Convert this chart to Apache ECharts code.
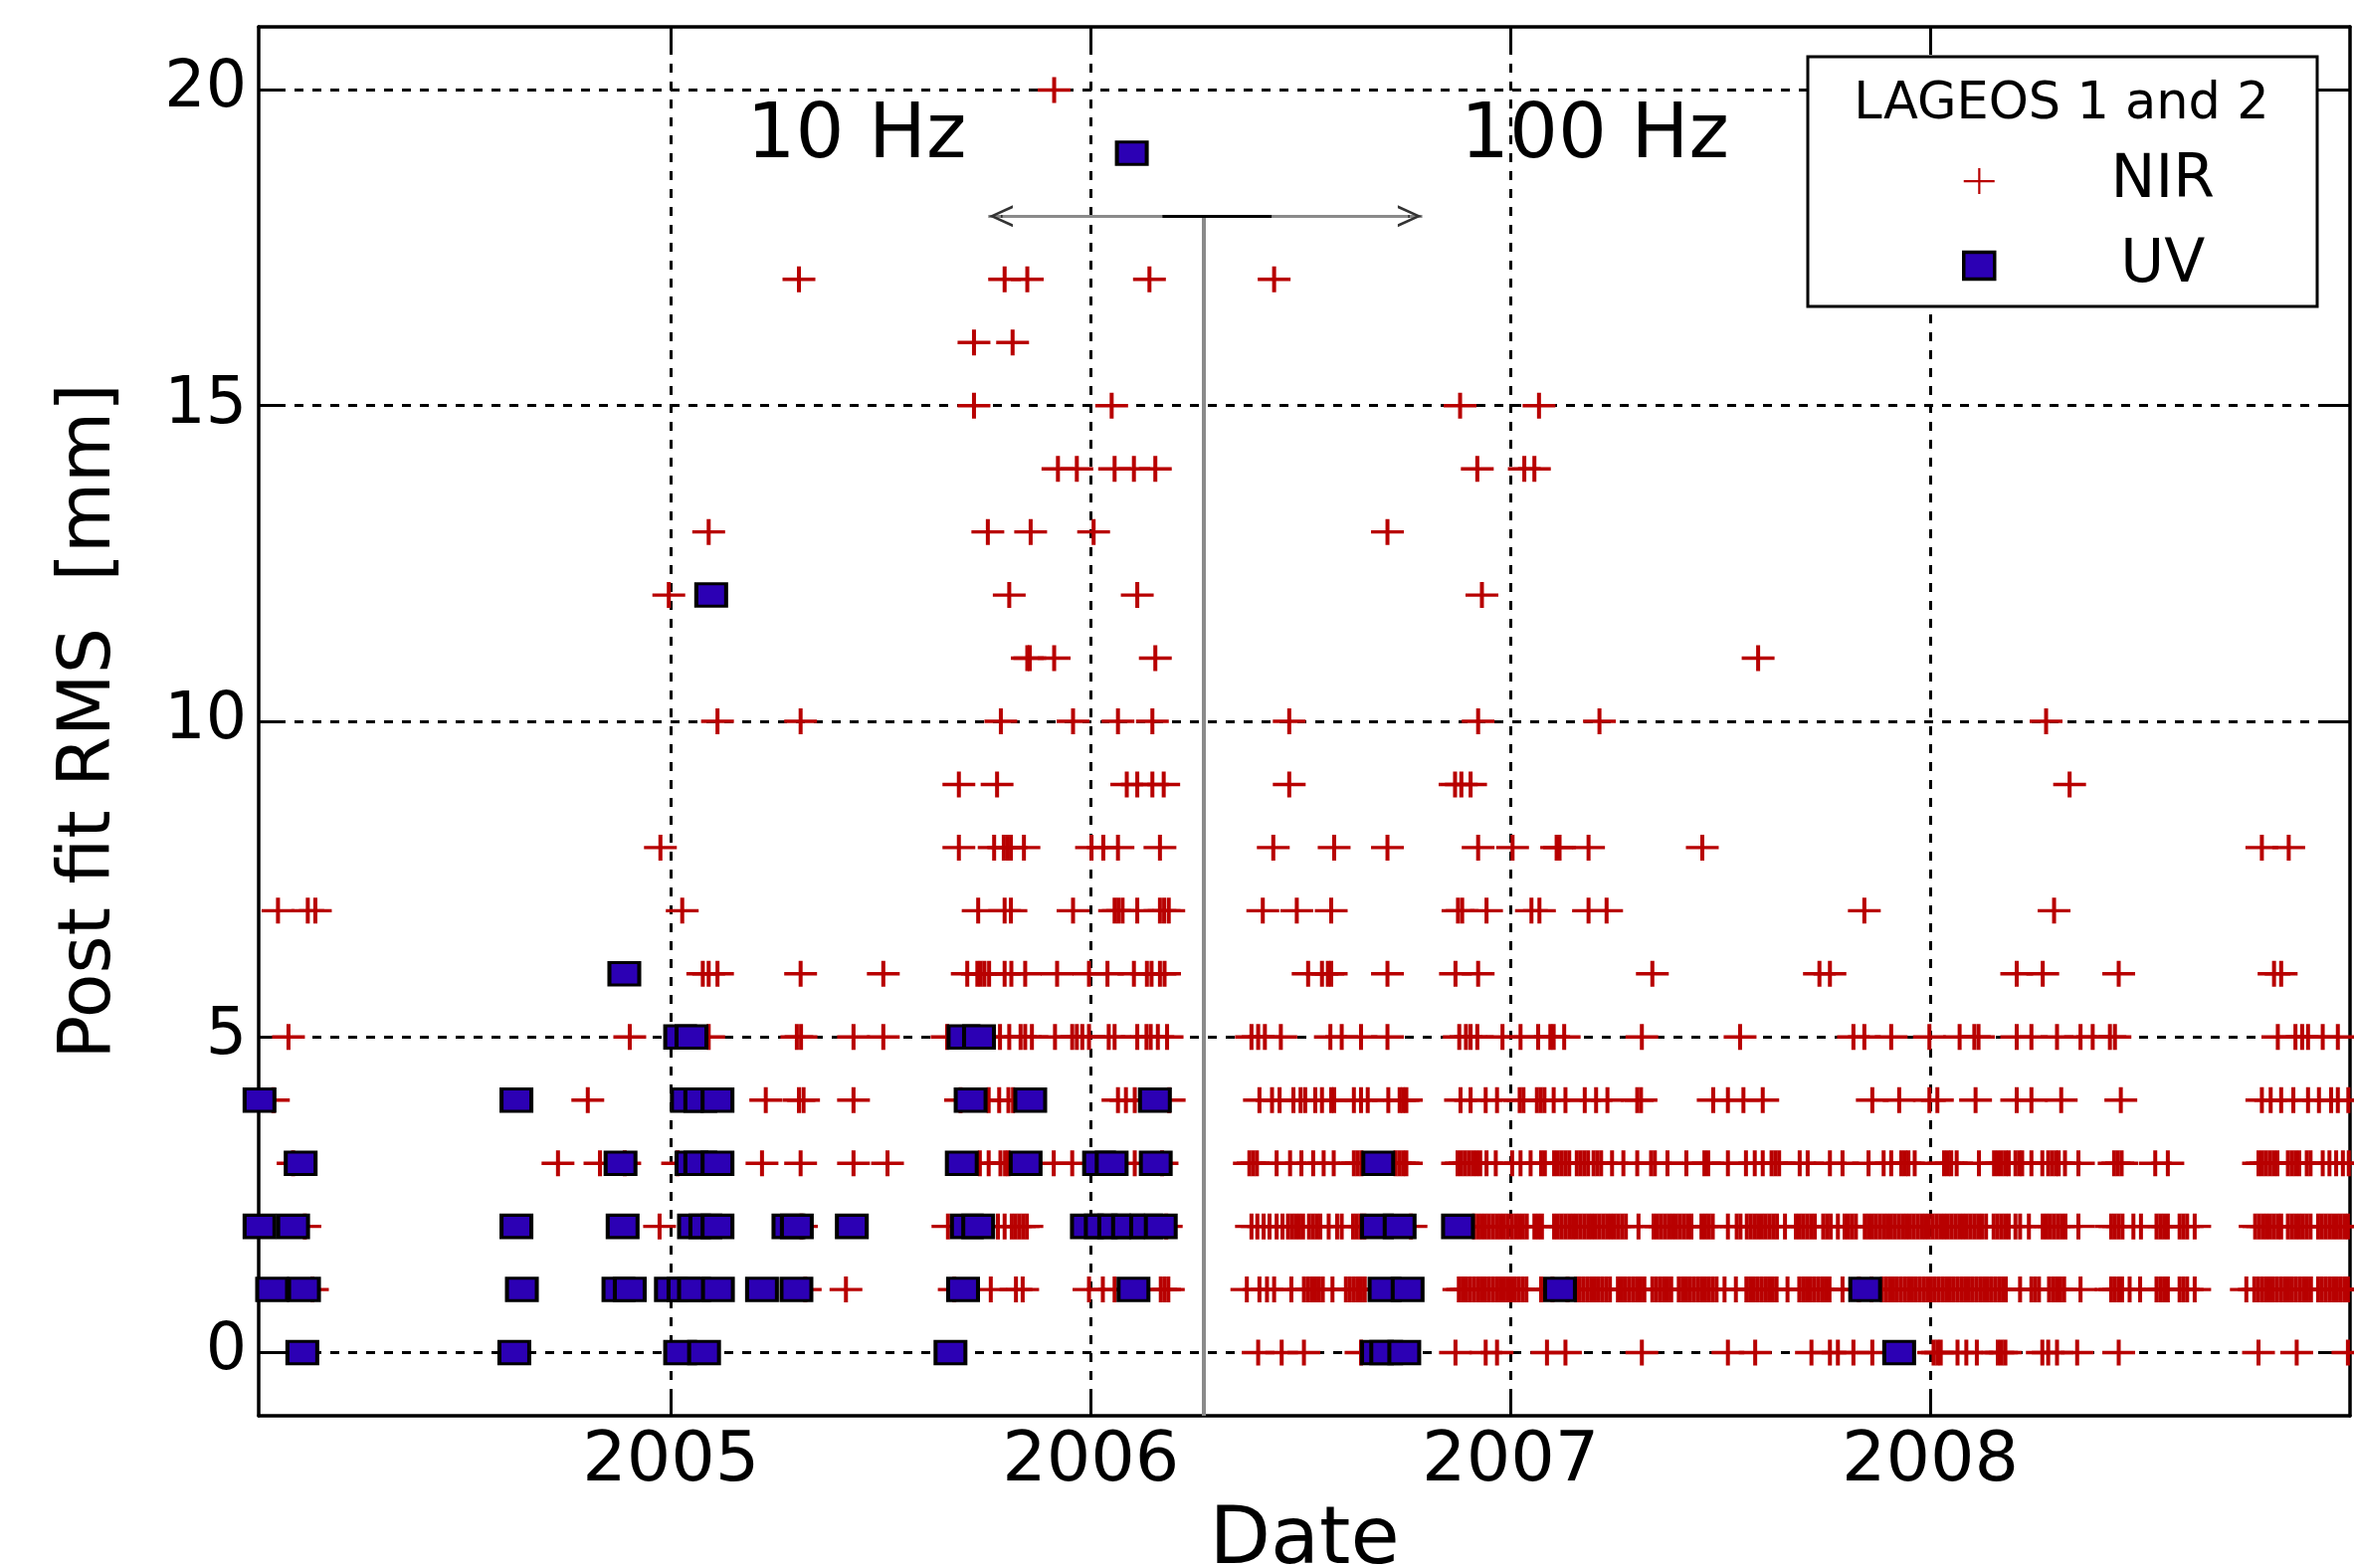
<!DOCTYPE html>
<html><head><meta charset="utf-8">
<script src="https://cdn.jsdelivr.net/npm/echarts@6/dist/echarts.min.js"></script>
<style>html,body{margin:0;padding:0;background:#fff}#c{width:2366px;height:1576px}</style>
</head><body><div id="c"></div>
<script>
// ---- tick labels ----
const xTicks = [2005, 2006, 2007, 2008];
const yTicks = [0, 5, 10, 15, 20];
const xMin = 2004.018, xMax = 2009.0;

// ---- NIR (red +) : decimal year per integer RMS level ----
const nir0 = [2006.399,2006.455,2006.508,2006.644,2006.869,2006.941,2006.968,2007.087,2007.131,2007.313,2007.518,2007.583,2007.717,2007.761,2007.780,2007.817,2007.862,2008.008,2008.017,2008.025,2008.065,2008.086,2008.111,2008.161,2008.170,2008.179,2008.267,2008.281,2008.302,2008.350,2008.449,2008.782,2008.873,2008.995];
const nir1 = [2004.146,2005.320,2005.417,2005.675,2005.762,2005.822,2005.838,2005.996,2006.029,2006.057,2006.167,2006.176,2006.185,
 2006.372,2006.402,2006.420,2006.437,2006.478,2006.508,2006.517,2006.526,2006.535,2006.544,2006.553,2006.576,
 2006.608,2006.617,2006.626,2006.635,2006.644,2006.653,
 2006.877,2006.886,2006.895,2006.904,2006.913,2006.922,2006.931,2006.940,2006.949,2006.958,2006.967,2006.976,2006.985,2006.993,
 2007.002,2007.011,2007.020,2007.029,2007.038,2007.073,2007.100,2007.136,
 2007.156,2007.165,2007.174,2007.183,2007.192,2007.201,2007.210,2007.219,2007.228,2007.237,
 2007.256,2007.265,2007.274,2007.283,2007.292,2007.301,2007.310,2007.319,
 2007.338,2007.347,2007.356,2007.365,2007.374,2007.383,
 2007.401,2007.410,2007.419,2007.428,2007.437,2007.446,2007.455,2007.464,2007.473,2007.482,2007.491,
 2007.510,2007.537,2007.562,2007.571,2007.580,2007.589,2007.598,2007.607,2007.616,2007.625,2007.634,2007.660,
 2007.688,2007.697,2007.706,2007.715,2007.724,2007.733,2007.742,2007.751,2007.760,2007.791,2007.830,2007.860,
 2007.885,2007.894,2007.903,2007.912,2007.921,2007.930,2007.939,2007.948,2007.957,2007.966,2007.975,2007.984,2007.993,
 2008.002,2008.011,2008.020,2008.029,2008.038,2008.047,2008.056,2008.065,2008.074,2008.083,2008.092,2008.101,2008.110,
 2008.119,2008.128,2008.137,2008.146,2008.155,2008.164,2008.173,2008.180,
 2008.214,2008.241,2008.250,2008.259,2008.283,2008.292,2008.301,2008.310,2008.319,2008.358,
 2008.431,2008.440,2008.449,2008.457,2008.475,2008.500,2008.539,2008.548,2008.557,2008.566,2008.594,2008.603,2008.612,2008.630,
 2008.753,2008.772,2008.781,2008.790,2008.799,2008.808,2008.817,2008.826,2008.835,2008.844,2008.853,2008.862,2008.871,2008.880,2008.889,2008.898,2008.907,
 2008.924,2008.933,2008.942,2008.951,2008.960,2008.969,2008.978,2008.987,2008.995];
const nir2 = [2004.128,2004.973,2005.311,2005.660,2005.779,2005.795,2005.812,2005.821,2005.830,2005.839,2005.848,2006.180,
 2006.383,2006.397,2006.412,2006.426,2006.443,2006.457,2006.470,2006.479,2006.488,2006.497,2006.506,2006.520,2006.529,2006.538,2006.547,
 2006.567,2006.587,2006.598,2006.625,2006.634,2006.643,2006.652,2006.763,
 2006.913,2006.922,2006.931,2006.940,2006.949,2006.958,2006.967,2006.976,2006.985,2006.994,
 2007.003,2007.012,2007.021,2007.030,2007.039,2007.057,2007.066,2007.075,
 2007.104,2007.113,2007.122,2007.131,2007.140,2007.149,2007.158,2007.167,2007.176,2007.185,2007.194,2007.203,2007.212,2007.221,2007.230,2007.239,2007.248,2007.257,2007.266,2007.275,
 2007.305,2007.341,2007.350,2007.359,2007.368,2007.377,2007.386,2007.395,2007.404,2007.413,2007.422,2007.431,
 2007.455,2007.464,2007.473,2007.482,2007.518,2007.539,2007.548,
 2007.563,2007.572,2007.581,2007.590,2007.599,2007.608,2007.617,2007.626,2007.635,2007.654,
 2007.680,2007.689,2007.698,2007.707,2007.716,2007.725,2007.745,2007.754,2007.763,2007.780,
 2007.796,2007.805,2007.814,2007.823,
 2007.844,2007.853,2007.862,2007.871,2007.880,2007.889,2007.898,2007.907,2007.916,2007.925,2007.934,2007.943,2007.952,2007.961,2007.970,2007.979,2007.988,2007.997,
 2008.006,2008.015,2008.024,2008.033,2008.042,2008.051,2008.060,2008.069,2008.078,2008.087,2008.096,2008.105,2008.114,2008.123,2008.133,
 2008.151,2008.160,2008.169,2008.178,2008.187,2008.203,2008.214,2008.235,
 2008.268,2008.277,2008.286,2008.295,2008.304,2008.313,2008.322,2008.353,
 2008.431,2008.440,2008.449,2008.458,2008.484,2008.502,2008.539,2008.548,2008.557,2008.566,2008.594,2008.603,2008.612,2008.630,
 2008.774,2008.783,2008.792,2008.801,2008.810,2008.819,2008.828,2008.836,
 2008.852,2008.861,2008.870,2008.879,2008.888,2008.897,2008.906,
 2008.924,2008.933,2008.942,2008.951,2008.960,2008.969,2008.978,2008.987,2008.995];
const nir3 = [2004.100,2004.731,2004.831,2004.890,2005.016,2005.217,2005.309,2005.435,2005.516,2005.736,2005.757,2005.785,2005.796,2005.804,
 2005.912,2005.956,2006.105,2006.170,2006.378,2006.387,2006.396,2006.443,2006.475,2006.502,2006.530,2006.555,2006.579,
 2006.627,2006.636,2006.645,2006.726,2006.735,2006.744,2006.752,
 2006.874,2006.883,2006.892,2006.901,2006.910,2006.919,2006.928,2006.943,2006.965,2007.004,2007.024,2007.048,2007.073,2007.082,
 2007.104,2007.113,2007.122,2007.131,2007.140,2007.158,2007.167,2007.176,2007.185,2007.198,2007.207,2007.216,2007.242,2007.269,2007.302,
 2007.335,2007.344,2007.374,2007.419,2007.462,2007.471,2007.518,2007.561,2007.582,2007.601,2007.622,2007.631,2007.640,
 2007.689,2007.708,2007.761,2007.791,2007.853,2007.889,2007.907,2007.931,2007.940,2007.948,2007.963,
 2008.033,2008.042,2008.050,2008.063,2008.116,2008.152,2008.161,2008.170,2008.179,2008.187,2008.203,2008.212,2008.219,
 2008.241,2008.267,2008.281,2008.290,2008.299,2008.306,2008.321,2008.353,2008.438,2008.447,2008.456,2008.536,2008.566,
 2008.782,2008.791,2008.800,2008.809,2008.818,2008.827,2008.852,2008.861,2008.870,2008.879,2008.897,2008.906,
 2008.935,2008.951,2008.967,2008.983,2008.997];
const nir4 = [2004.053,2004.802,2005.226,2005.305,2005.316,2005.435,2005.690,2005.757,2005.782,2005.804,2005.815,2006.065,2006.084,2006.105,2006.187,
 2006.402,2006.432,2006.450,2006.483,2006.500,2006.511,2006.535,2006.551,2006.573,2006.580,2006.627,2006.644,2006.660,2006.709,2006.736,2006.744,2006.752,
 2006.881,2006.905,2006.941,2006.968,2007.022,2007.031,2007.063,2007.072,2007.081,2007.103,2007.131,2007.177,2007.204,2007.231,2007.302,2007.311,
 2007.483,2007.518,2007.555,2007.601,2007.862,2007.926,2007.998,2008.017,2008.108,2008.206,2008.241,2008.312,2008.454,
 2008.790,2008.811,2008.836,2008.865,2008.900,2008.926,2008.955,2008.971,2008.996];
const nir5 = [2004.089,2004.902,2005.090,2005.300,2005.310,2005.435,2005.506,2005.658,2005.784,2005.806,2005.833,2005.844,2005.860,2005.915,
 2005.956,2005.967,2005.980,2005.996,2006.043,2006.057,2006.111,2006.133,2006.143,2006.160,2006.182,2006.383,2006.399,2006.415,2006.453,
 2006.571,2006.598,2006.644,2006.707,2006.878,2006.894,2006.905,2006.921,2006.981,2007.024,2007.066,2007.095,2007.103,2007.128,2007.313,
 2007.547,2007.817,2007.843,2007.907,2007.998,2008.070,2008.105,2008.115,2008.206,2008.241,2008.302,2008.358,2008.387,2008.428,2008.440,
 2008.828,2008.870,2008.886,2008.900,2008.935,2008.971];
const nir6 = [2005.076,2005.090,2005.111,2005.309,2005.506,2005.706,2005.730,2005.738,2005.747,2005.758,2005.795,2005.811,2005.844,2005.920,
 2005.996,2006.040,2006.103,2006.134,2006.145,2006.165,2006.176,2006.518,2006.551,2006.565,2006.573,2006.707,2006.869,2006.923,
 2007.338,2007.736,2007.761,2008.206,2008.268,2008.449,2008.819,2008.836];
const nir7 = [2004.064,2004.135,2004.153,2005.027,2005.732,2005.795,2005.810,2005.958,2006.057,2006.066,2006.076,2006.111,2006.165,2006.175,2006.186,
 2006.410,2006.491,2006.573,2006.875,2006.885,2006.943,2007.050,2007.069,2007.186,2007.229,2007.843,2008.295];
const nir8 = [2004.975,2005.686,2005.770,2005.793,2005.802,2005.810,2005.841,2006.002,2006.030,2006.065,2006.165,2006.435,2006.580,2006.707,
 2006.923,2007.005,2007.110,2007.117,2007.186,2007.457,2008.790,2008.854];
const nir9 = [2005.686,2005.777,2006.086,2006.111,2006.147,2006.174,2006.473,2006.868,2006.883,2006.905,2008.332];
const nir10 = [2005.111,2005.309,2005.786,2005.958,2006.065,2006.147,2006.473,2006.923,2007.212,2008.276];
const nir11 = [2005.849,2005.855,2005.913,2006.154,2007.590];
const nir12 = [2004.995,2005.806,2006.111,2006.932];
const nir13 = [2005.090,2005.755,2005.857,2006.007,2006.707];
const nir14 = [2005.922,2005.967,2006.057,2006.103,2006.154,2006.921,2007.033,2007.057];
const nir15 = [2005.722,2006.050,2006.880,2007.068];
const nir16 = [2005.722,2005.814];
const nir17 = [2005.305,2005.795,2005.849,2006.140,2006.437];
const nir18 = [];
const nir19 = [];
const nir20 = [2005.913];

// ---- UV (blue squares) ----
const uv0 = [2004.122,2004.627,2005.022,2005.079,2005.666,2006.682,2006.704,2006.747,2007.926];
const uv1 = [2004.050,2004.126,2004.645,2004.875,2004.902,2005.000,2005.030,2005.055,2005.112,2005.217,2005.299,2005.696,2006.102,2006.700,2006.755,2007.118,2007.845];
const uv2 = [2004.020,2004.100,2004.632,2004.885,2005.055,2005.082,2005.111,2005.280,2005.300,2005.431,2005.705,2005.732,2005.991,2006.024,2006.056,2006.089,2006.132,2006.167,2006.682,2006.736,2006.875];
const uv3 = [2004.118,2004.880,2005.049,2005.070,2005.111,2005.693,2005.845,2006.020,2006.050,2006.155,2006.685];
const uv4 = [2004.020,2004.632,2005.038,2005.070,2005.111,2005.714,2005.856,2006.153];
const uv5 = [2005.022,2005.049,2005.697,2005.734];
const uv6 = [2004.889];
const uv12 = [2005.096];
const uv19 = [2006.098];

const nirRows = [nir0,nir1,nir2,nir3,nir4,nir5,nir6,nir7,nir8,nir9,nir10,nir11,nir12,nir13,nir14,nir15,nir16,nir17,nir18,nir19,nir20];
const uvRows = {0:uv0,1:uv1,2:uv2,3:uv3,4:uv4,5:uv5,6:uv6,12:uv12,19:uv19};

const nirData = [];
nirRows.forEach((xs, y) => xs.forEach(x => nirData.push([x, y])));
const uvData = [];
Object.keys(uvRows).forEach(k => uvRows[k].forEach(x => uvData.push([x, +k])));

const F = 'DejaVu Sans';
const RED = '#b80000', BLUE = '#2c00b4';
const PLUS = 'path://M14.5,0H18.5V11.3H33V14.7H18.5V26H14.5V14.7H0V11.3H14.5Z';
const PLUS_THIN = 'path://M14.5,0H16.7V12H31V14.2H16.7V26H14.5V14.2H0V12H14.5Z';
const CHEV = 'path://M0,24L11,0L22,24L19,24L11,6L3,24Z';

const chart = echarts.init(document.getElementById('c'), null, {renderer: 'canvas'});

const tickStyle = {inside: true, length: 24, lineStyle: {color: '#000', width: 3}};
const lineStyleAxis = {onZero: false, lineStyle: {color: '#000', width: 3.5}};

chart.setOption({
  animation: false,
  backgroundColor: '#fff',
  grid: {left: 260, right: 4, top: 27, bottom: 153, containLabel: false, outerBoundsMode: 'none'},
  xAxis: [
    {type: 'value', min: xMin, max: xMax, position: 'bottom',
     axisLine: lineStyleAxis,
     axisTick: Object.assign({customValues: xTicks}, tickStyle),
     axisLabel: {customValues: xTicks, fontSize: 70, fontFamily: F, color: '#000', margin: 12,
                 formatter: v => String(Math.round(v))},
     splitLine: {show: false},
     name: 'Date', nameLocation: 'middle', nameGap: 74,
     nameTextStyle: {fontSize: 80, fontFamily: F, color: '#000'}},
    {type: 'value', min: xMin, max: xMax, position: 'top',
     axisLine: lineStyleAxis,
     axisTick: Object.assign({customValues: xTicks}, tickStyle),
     axisLabel: {show: false}, splitLine: {show: false}}
  ],
  yAxis: [
    {type: 'value', min: -1, max: 21, position: 'left',
     axisLine: lineStyleAxis,
     axisTick: Object.assign({customValues: yTicks}, tickStyle),
     axisLabel: {customValues: yTicks, fontSize: 65, fontFamily: F, color: '#000', margin: 12,
                 formatter: v => String(Math.round(v))},
     splitLine: {show: false},
     name: 'Post fit RMS  [mm]', nameLocation: 'middle', nameRotate: 90, nameGap: 132,
     nameTextStyle: {fontSize: 73, fontFamily: F, color: '#000'}},
    {type: 'value', min: -1, max: 21, position: 'right',
     axisLine: lineStyleAxis,
     axisTick: Object.assign({customValues: yTicks}, tickStyle),
     axisLabel: {show: false}, splitLine: {show: false}}
  ],
  legend: {
    left: 1972, top: 152, orient: 'vertical', padding: 0, z: 200,
    itemWidth: 31, itemHeight: 27, itemGap: 25, selectedMode: false,
    data: [
      {name: 'NIR', icon: PLUS_THIN, itemStyle: {color: RED, borderWidth: 0, opacity: 1}},
      {name: 'UV', icon: 'rect', itemStyle: {color: BLUE, borderColor: '#000', borderWidth: 3.5, opacity: 1}}
    ],
    formatter: n => '{t|' + n + '}',
    textStyle: {rich: {t: {width: 328, align: 'center', fontSize: 60, lineHeight: 60, fontFamily: F, color: '#000'}}}
  },
  graphic: [
    {type: 'rect', z: 100, shape: {x: 1817, y: 57, width: 512, height: 251},
     style: {fill: '#fff', stroke: '#000', lineWidth: 3}},
    {type: 'text', z: 101, x: 2072, y: 106,
     style: {text: 'LAGEOS 1 and 2', fontSize: 51, fontFamily: F, fill: '#000', align: 'center', verticalAlign: 'middle'}},
    {type: 'text', z: 101, x: 861, y: 138,
     style: {text: '10 Hz', fontSize: 77, fontFamily: F, fill: '#000', align: 'center', verticalAlign: 'middle'}},
    {type: 'text', z: 101, x: 1603, y: 138,
     style: {text: '100 Hz', fontSize: 77, fontFamily: F, fill: '#000', align: 'center', verticalAlign: 'middle'}}
  ],
  series: [
    {name: 'gridlines', type: 'scatter', z: 1, silent: true, symbolSize: 0, data: [[2004.5, -5]],
     markLine: {silent: true, z: 1, symbol: ['none', 'none'], label: {show: false}, animation: false,
       lineStyle: {color: '#000', width: 3, type: [9, 9], opacity: 1},
       data: xTicks.map(v => ({xAxis: v})).concat(yTicks.map(v => ({yAxis: v})))}},
    {name: 'NIR', type: 'scatter', z: 2, symbol: PLUS, symbolSize: [33, 26],
     itemStyle: {color: RED, opacity: 1}, data: nirData},
    {name: 'UV', type: 'scatter', z: 3, symbol: 'rect', symbolSize: [30, 22.5],
     itemStyle: {color: BLUE, borderColor: '#000', borderWidth: 3.5, opacity: 1}, data: uvData},
    {name: 'annot', type: 'scatter', z: 4, silent: true, symbolSize: 0, data: [[2004.5, -5]],
     markLine: {silent: true, z: 4, label: {show: false}, animation: false, symbol: ['none', 'none'],
       data: [
         [{coord: [2006.268, 18], lineStyle: {color: '#8a8a8a', width: 4, type: 'solid', opacity: 1}}, {coord: [2006.268, -1]}],
         [{coord: [2005.756, 18], lineStyle: {color: '#8a8a8a', width: 3, type: 'solid', opacity: 1}}, {coord: [2006.790, 18]}],
         [{coord: [2006.171, 18], lineStyle: {color: '#000', width: 3, type: 'solid', opacity: 1}}, {coord: [2006.431, 18]}],
         [{coord: [2005.790, 18], symbol: 'none', lineStyle: {color: '#333', width: 3, type: 'solid', opacity: 1}},
          {coord: [2005.786, 18], symbol: CHEV, symbolSize: [22, 24]}],
         [{coord: [2006.756, 18], symbol: 'none', lineStyle: {color: '#333', width: 3, type: 'solid', opacity: 1}},
          {coord: [2006.760, 18], symbol: CHEV, symbolSize: [22, 24]}]
       ]}}
  ]
});
</script>
</body></html>
